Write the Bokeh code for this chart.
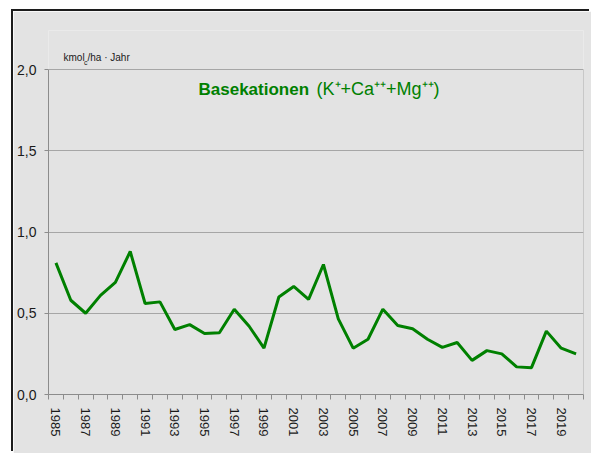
from bokeh.plotting import figure
from bokeh.models import FixedTicker, Label, Range1d
from bokeh.embed import file_html
from bokeh.resources import INLINE

# ---- data ----
years = list(range(1985, 2021))
basekationen = [0.81, 0.58, 0.50, 0.61, 0.69, 0.88, 0.56, 0.57, 0.40, 0.43,
                0.375, 0.38, 0.525, 0.42, 0.285, 0.60, 0.665, 0.585, 0.80, 0.465,
                0.285, 0.34, 0.525, 0.425, 0.405, 0.34, 0.29, 0.32, 0.21, 0.27,
                0.25, 0.17, 0.165, 0.39, 0.285, 0.25]
y_ticks = [0.0, 0.5, 1.0, 1.5, 2.0]
y_tick_labels = ["0,0", "0,5", "1,0", "1,5", "2,0"]
x_label_years = years[::2]
x_boundaries = [y - 0.5 for y in years] + [years[-1] + 0.5]

FONT = "Liberation Sans"
GREEN = "#008000"
BG = "#e3e3e3"
TXT = "#1a1a1a"
GRID = "#a6a6a6"

x_lo, x_hi = years[0] - 0.5, years[-1] + 0.5
y_top = y_ticks[-1]

# canvas placed at (13, 11); dark chart border drawn as a box shadow
p = figure(width=578, height=442, output_backend="svg", toolbar_location=None,
           x_range=Range1d(x_lo, x_hi),
           y_range=Range1d(0, 2.24),
           min_border_left=35, min_border_top=19, min_border_right=8,
           min_border_bottom=59)
p.margin = (11, 0, 0, 13)
p.styles = {"box-shadow": "-2px -2px 0px 0px #1c1c1c"}

p.background_fill_color = BG
p.border_fill_color = BG
p.outline_line_color = None

# right border of the plot area
p.segment(x0=[x_hi], y0=[0], x1=[x_hi], y1=[y_top], line_color=GRID, line_width=1)

p.line(years, basekationen, line_color=GREEN, line_width=3)

# y axis
p.yaxis.ticker = FixedTicker(ticks=y_ticks)
p.yaxis.bounds = (0, y_top)
p.yaxis.major_label_overrides = {t: l for t, l in zip(y_ticks, y_tick_labels)}
p.yaxis.major_tick_out = 4
p.yaxis.major_tick_in = 0
p.yaxis.minor_tick_out = 0
p.yaxis.minor_tick_in = 0
p.yaxis.axis_line_color = "#8c8c8c"
p.yaxis.major_tick_line_color = "#8c8c8c"
p.yaxis.major_label_text_font = FONT
p.yaxis.major_label_text_font_size = "14px"
p.yaxis.major_label_text_color = TXT
p.yaxis.major_label_standoff = 8

# x axis
p.xaxis.ticker = FixedTicker(ticks=x_label_years, minor_ticks=x_boundaries)
p.xaxis.major_tick_out = 0
p.xaxis.major_tick_in = 0
p.xaxis.minor_tick_out = 5
p.xaxis.minor_tick_in = 0
p.xaxis.axis_line_color = "#8c8c8c"
p.xaxis.minor_tick_line_color = "#8c8c8c"
p.xaxis.major_label_orientation = "vertical"
p.xaxis.major_label_text_font = FONT
p.xaxis.major_label_text_font_size = "13px"
p.xaxis.major_label_text_color = TXT
p.xaxis.major_label_standoff = 8

p.xgrid.visible = False
p.ygrid.ticker = FixedTicker(ticks=y_ticks)
p.ygrid.grid_line_color = GRID
p.ygrid.grid_line_width = 1

# unit label (screen units relative to plot frame: x from left, y from bottom)
p.add_layout(Label(x=15, y=332, x_units="screen", y_units="screen", text="kmol",
                   text_font=FONT, text_font_size="10px", text_color=TXT))
p.add_layout(Label(x=35.5, y=328.5, x_units="screen", y_units="screen", text="c",
                   text_font=FONT, text_font_size="7px", text_color=TXT))
p.add_layout(Label(x=39, y=332, x_units="screen", y_units="screen", text="/ha · Jahr",
                   text_font=FONT, text_font_size="10px", text_color=TXT))

# title
p.add_layout(Label(x=150, y=296, x_units="screen", y_units="screen", text="Basekationen",
                   text_font=FONT, text_font_size="17px", text_font_style="bold",
                   text_color=GREEN))
p.add_layout(Label(x=268, y=296, x_units="screen", y_units="screen",
                   text="(K\u207a+Ca\u207a\u207a+Mg\u207a\u207a)",
                   text_font=FONT, text_font_size="18px", text_color=GREEN))

open("out.html", "w").write(file_html(p, INLINE))
